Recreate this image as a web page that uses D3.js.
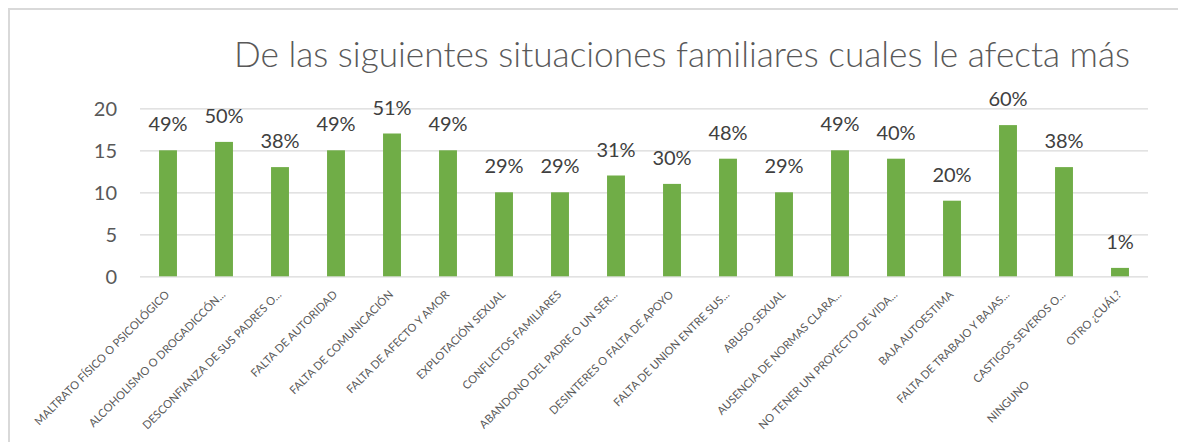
<!DOCTYPE html>
<html>
<head>
<meta charset="utf-8">
<script src="https://cdn.jsdelivr.net/npm/d3@7"></script>
<style>
  html, body { margin: 0; padding: 0; background: #ffffff; }
  svg { display: block; }
</style>
</head>
<body>
<svg id="chart" width="1178" height="442"></svg>
<script>
const title = "De las siguientes situaciones familiares cuales le afecta más";
const categories = [
  "MALTRATO FÍSICO O PSICOLÓGICO",
  "ALCOHOLISMO O DROGADICCÓN...",
  "DESCONFIANZA DE SUS PADRES O...",
  "FALTA DE AUTORIDAD",
  "FALTA DE COMUNICACIÓN",
  "FALTA DE AFECTO Y AMOR",
  "EXPLOTACIÓN SEXUAL",
  "CONFLICTOS FAMILIARES",
  "ABANDONO DEL PADRE O UN SER...",
  "DESINTERES O FALTA DE APOYO",
  "FALTA DE UNION ENTRE SUS...",
  "ABUSO SEXUAL",
  "AUSENCIA DE NORMAS CLARA...",
  "NO TENER UN PROYECTO DE VIDA...",
  "BAJA AUTOESTIMA",
  "FALTA DE TRABAJO Y BAJAS...",
  "CASTIGOS SEVEROS O...",
  "OTRO ¿CUÁL?"
];
const values = [15, 16, 13, 15, 17, 15, 10, 10, 12, 11, 14, 10, 15, 14, 9, 18, 13, 1];
const percentLabels = ["49%", "50%", "38%", "49%", "51%", "49%", "29%", "29%", "31%", "30%", "48%", "29%", "49%", "40%", "20%", "60%", "38%", "1%"];
const yTicks = [0, 5, 10, 15, 20];
// extra (overflowing) category text shown under the 17th category
const extraLabelText = "NINGUNO";
const extraLabelCategory = "CASTIGOS SEVEROS O...";

const svg = d3.select("#chart");
const W = 1178, H = 442;
const plot = { left: 140, right: 1148, top: 108.3, bottom: 276.3 };
const catFont = 11.2;

// chart border
svg.append("rect")
  .attr("x", 9).attr("y", 9)
  .attr("width", W + 10).attr("height", H + 10)
  .attr("fill", "#ffffff")
  .attr("stroke", "#d9d9d9").attr("stroke-width", 2);

// title
const t = svg.append("text")
  .attr("x", 234).attr("y", 67)
  .attr("font-family", "Lato, 'Open Sans', sans-serif")
  .attr("font-weight", 300)
  .attr("font-size", 34.5)
  .attr("fill", "#595959")
  .text(title);
t.attr("textLength", 896).attr("lengthAdjust", "spacingAndGlyphs");

const x = d3.scaleBand()
  .domain(categories)
  .range([plot.left, plot.right])
  .paddingInner(0.68)
  .paddingOuter(0.34);

const y = d3.scaleLinear()
  .domain([0, 20])
  .range([plot.bottom, plot.top]);

// y axis with gridlines
const yAxis = svg.append("g")
  .attr("transform", `translate(${plot.left},0)`)
  .call(d3.axisLeft(y).tickValues(yTicks).tickSize(-(plot.right - plot.left)).tickPadding(23));
yAxis.select(".domain").remove();
yAxis.selectAll(".tick line")
  .attr("stroke", "#d9d9d9").attr("stroke-width", 1.3);
yAxis.selectAll(".tick text")
  .attr("font-family", "Lato, 'Open Sans', sans-serif")
  .attr("font-size", 20)
  .attr("fill", "#595959")
  .attr("dy", "0.36em");

// bars
svg.append("g").selectAll("rect")
  .data(values)
  .join("rect")
  .attr("x", (d, i) => x(categories[i]))
  .attr("y", d => y(d))
  .attr("width", x.bandwidth())
  .attr("height", d => y(0) - y(d))
  .attr("fill", "#70ad47");

// data labels
svg.append("g").selectAll("text")
  .data(values)
  .join("text")
  .attr("x", (d, i) => x(categories[i]) + x.bandwidth() / 2)
  .attr("y", d => y(d) - 19)
  .attr("text-anchor", "middle")
  .attr("font-family", "Lato, 'Open Sans', sans-serif")
  .attr("font-size", 20)
  .attr("fill", "#404040")
  .text((d, i) => percentLabels[i]);

// x axis (category labels)
const xAxis = svg.append("g")
  .attr("transform", `translate(0,${plot.bottom})`)
  .call(d3.axisBottom(x).tickSize(0).tickPadding(0));
xAxis.select(".domain").remove();
xAxis.selectAll(".tick text")
  .attr("font-family", "Lato, 'Open Sans', sans-serif")
  .attr("font-size", catFont)
  .attr("fill", "#595959")
  .attr("text-anchor", "end")
  .attr("dy", 0)
  .attr("y", 0)
  .attr("transform", "translate(2,19) rotate(-45)");

// overflowing extra label
svg.append("text")
  .attr("font-family", "Lato, 'Open Sans', sans-serif")
  .attr("font-size", catFont)
  .attr("fill", "#595959")
  .attr("text-anchor", "end")
  .attr("transform", `translate(${x(extraLabelCategory) + x.bandwidth() / 2 - 34},${plot.bottom + 109}) rotate(-45)`)
  .text(extraLabelText);
</script>
</body>
</html>
